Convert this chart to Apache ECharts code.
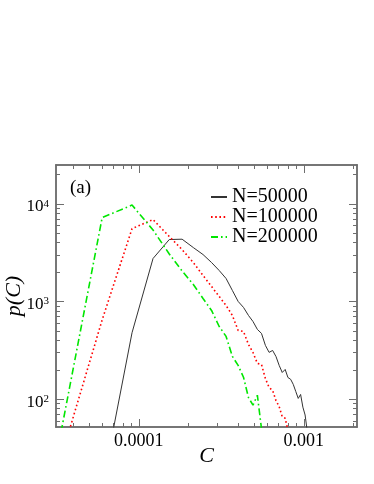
<!DOCTYPE html>
<html>
<head>
<meta charset="utf-8">
<script src="https://cdn.jsdelivr.net/npm/echarts@6/dist/echarts.min.js"></script>
<style>
  html, body { margin: 0; padding: 0; background: #fff; }
  #chart { width: 374px; height: 484px; }
</style>
</head>
<body>
<div id="chart"></div>
<script>
// bin centres of C (linear bins)
var binC = [2.9e-5, 6.0e-5, 9.1e-5, 1.22e-4, 1.53e-4, 1.83e-4, 2.14e-4, 2.45e-4, 2.76e-4, 3.07e-4,
            3.38e-4, 3.69e-4, 4.0e-4, 4.31e-4, 4.62e-4, 4.92e-4, 5.23e-4, 5.54e-4, 5.85e-4, 6.16e-4,
            6.47e-4, 6.78e-4, 7.09e-4, 7.4e-4, 7.71e-4, 8.01e-4, 8.32e-4, 8.63e-4, 8.94e-4, 9.25e-4,
            9.56e-4, 9.87e-4, 1.018e-3, 1.049e-3];

// p(C) for each system size (null = no point)
var p50k = [null, 12.7, 480, 2760, 4315, 4350, 3570, 3030, 2510, 2080,
            1722, 1300, 1003, 871, 721, 625, 519, 472, 356, 302,
            316, 274, 222, 188, 202, 167, 160, 142, 120, 102,
            112, 83, 69, 47];
var p100k = [10.5, 650, 5580, 6910, 4630, 3400, 2510, 1850, 1426, 1128,
             912, 721, 506, 494, 364, 301, 233, 227, 163, 132,
             123, 97, 84, 66, 64, 48];
var p200k = [12, 7240, 9720, 5400, 3070, 2055, 1496, 1076, 811, 556,
             440, 275, 222, 168, 104, 87, 110, 50, 25];

var names = ['N=50000', 'N=100000', 'N=200000'];

// ticks
var xMajor = [1e-4, 1e-3];
var xLabels = ['0.0001', '0.001'];
var xMinor = [4e-5, 5e-5, 6e-5, 7e-5, 8e-5, 9e-5, 2e-4, 3e-4, 4e-4, 5e-4, 6e-4, 7e-4, 8e-4, 9e-4, 2e-3];
var yMajor = [100, 1000, 10000];
var yExp = ['2', '3', '4'];
var yMinor = [60, 70, 80, 90, 200, 300, 400, 500, 600, 700, 800, 900,
              2000, 3000, 4000, 5000, 6000, 7000, 8000, 9000, 20000];

var xMin = 3.15e-5, xMax = 2.1e-3;
var yMin = 52, yMax = 25000;

var frame = '#6e6e6e';
var serif = '"Liberation Serif", "DejaVu Serif", serif';

function pairs(ys) {
    var out = [];
    for (var i = 0; i < ys.length; i++) {
        if (ys[i] != null) out.push([binC[i], ys[i]]);
    }
    return out;
}

function xAx(pos, ticks, len, withLabels) {
    var a = {
        type: 'log', logBase: 10, gridIndex: 0, position: pos,
        min: xMin, max: xMax,
        axisLine: { show: true, onZero: false, lineStyle: { color: frame, width: 1.5 } },
        axisTick: { show: true, inside: true, length: len, customValues: ticks,
                    lineStyle: { color: frame, width: 1 } },
        axisLabel: { show: false },
        splitLine: { show: false }
    };
    if (withLabels) {
        a.axisLabel = {
            show: true, customValues: xMajor, margin: 5,
            fontFamily: serif, fontSize: 18, color: '#000',
            formatter: function (v) {
                var i = xMajor.indexOf(v);
                if (i < 0) i = Math.abs(v - 1e-4) < Math.abs(v - 1e-3) ? 0 : 1;
                return xLabels[i];
            }
        };
        a.name = 'C';
        a.nameLocation = 'middle';
        a.nameGap = 18;
        a.nameMoveOverlap = false;
        a.nameTextStyle = { fontFamily: serif, fontStyle: 'italic', fontSize: 22, color: '#000' };
    }
    return a;
}

function yAx(pos, ticks, len, withLabels) {
    var a = {
        type: 'log', logBase: 10, gridIndex: 0, position: pos,
        min: yMin, max: yMax,
        axisLine: { show: true, onZero: false, lineStyle: { color: frame, width: 1.5 } },
        axisTick: { show: true, inside: true, length: len, customValues: ticks,
                    lineStyle: { color: frame, width: 1 } },
        axisLabel: { show: false },
        splitLine: { show: false }
    };
    if (withLabels) {
        a.axisLabel = {
            show: true, customValues: yMajor, margin: 7,
            fontFamily: serif, color: '#000', padding: [6, 0, 0, 0],
            formatter: function (v) {
                var i = Math.round(Math.log10(v)) - 2;
                return '{b|10}{s|' + yExp[i] + '}';
            },
            rich: {
                b: { fontFamily: serif, fontSize: 17, lineHeight: 17, verticalAlign: 'bottom', padding: [3, 0, 0, 0], color: '#000' },
                s: { fontFamily: serif, fontSize: 11, lineHeight: 11, verticalAlign: 'top', color: '#000' }
            }
        };
        a.name = 'p(C)';
        a.nameLocation = 'middle';
        a.nameGap = 31;
        a.nameMoveOverlap = false;
        a.nameTextStyle = { fontFamily: serif, fontStyle: 'italic', fontSize: 22, color: '#000' };
    }
    return a;
}

var chart = echarts.init(document.getElementById('chart'), null, { renderer: 'canvas' });

chart.setOption({
    animation: false,
    backgroundColor: '#fff',
    title: {
        text: '(a)', left: 70, top: 179, padding: 0,
        textStyle: { fontFamily: serif, fontSize: 19, fontWeight: 'normal', color: '#000' }
    },
    legend: {
        orient: 'vertical', left: 210, top: 187, padding: 0,
        itemWidth: 16, itemHeight: 10, itemGap: 0,
        data: names,
        itemStyle: { opacity: 0 },
        textStyle: { fontFamily: serif, fontSize: 20, lineHeight: 18.5, color: '#000' }
    },
    grid: { left: 56, right: 17, top: 165, bottom: 57, containLabel: false, outerBoundsMode: 'none' },
    xAxis: [
        xAx('bottom', xMajor, 8, true),
        xAx('bottom', xMinor, 4, false),
        xAx('top', xMajor, 8, false),
        xAx('top', xMinor, 4, false)
    ],
    yAxis: [
        yAx('left', yMajor, 8, true),
        yAx('left', yMinor, 4, false),
        yAx('right', yMajor, 8, false),
        yAx('right', yMinor, 4, false)
    ],
    series: [
        {
            name: names[0], type: 'line', data: pairs(p50k),
            symbol: 'none', clip: true,
            lineStyle: { color: '#333', width: 1 },
            itemStyle: { color: '#333' }
        },
        {
            name: names[1], type: 'line', data: pairs(p100k),
            symbol: 'none', clip: true,
            lineStyle: { color: '#ff0000', width: 1.6, type: [1.6, 2.6] },
            itemStyle: { color: '#ff0000' }
        },
        {
            name: names[2], type: 'line', data: pairs(p200k),
            symbol: 'none', clip: true,
            lineStyle: { color: '#00e600', width: 1.6, type: [7, 3, 1.6, 3] },
            itemStyle: { color: '#00e600' }
        }
    ]
});
</script>
</body>
</html>
